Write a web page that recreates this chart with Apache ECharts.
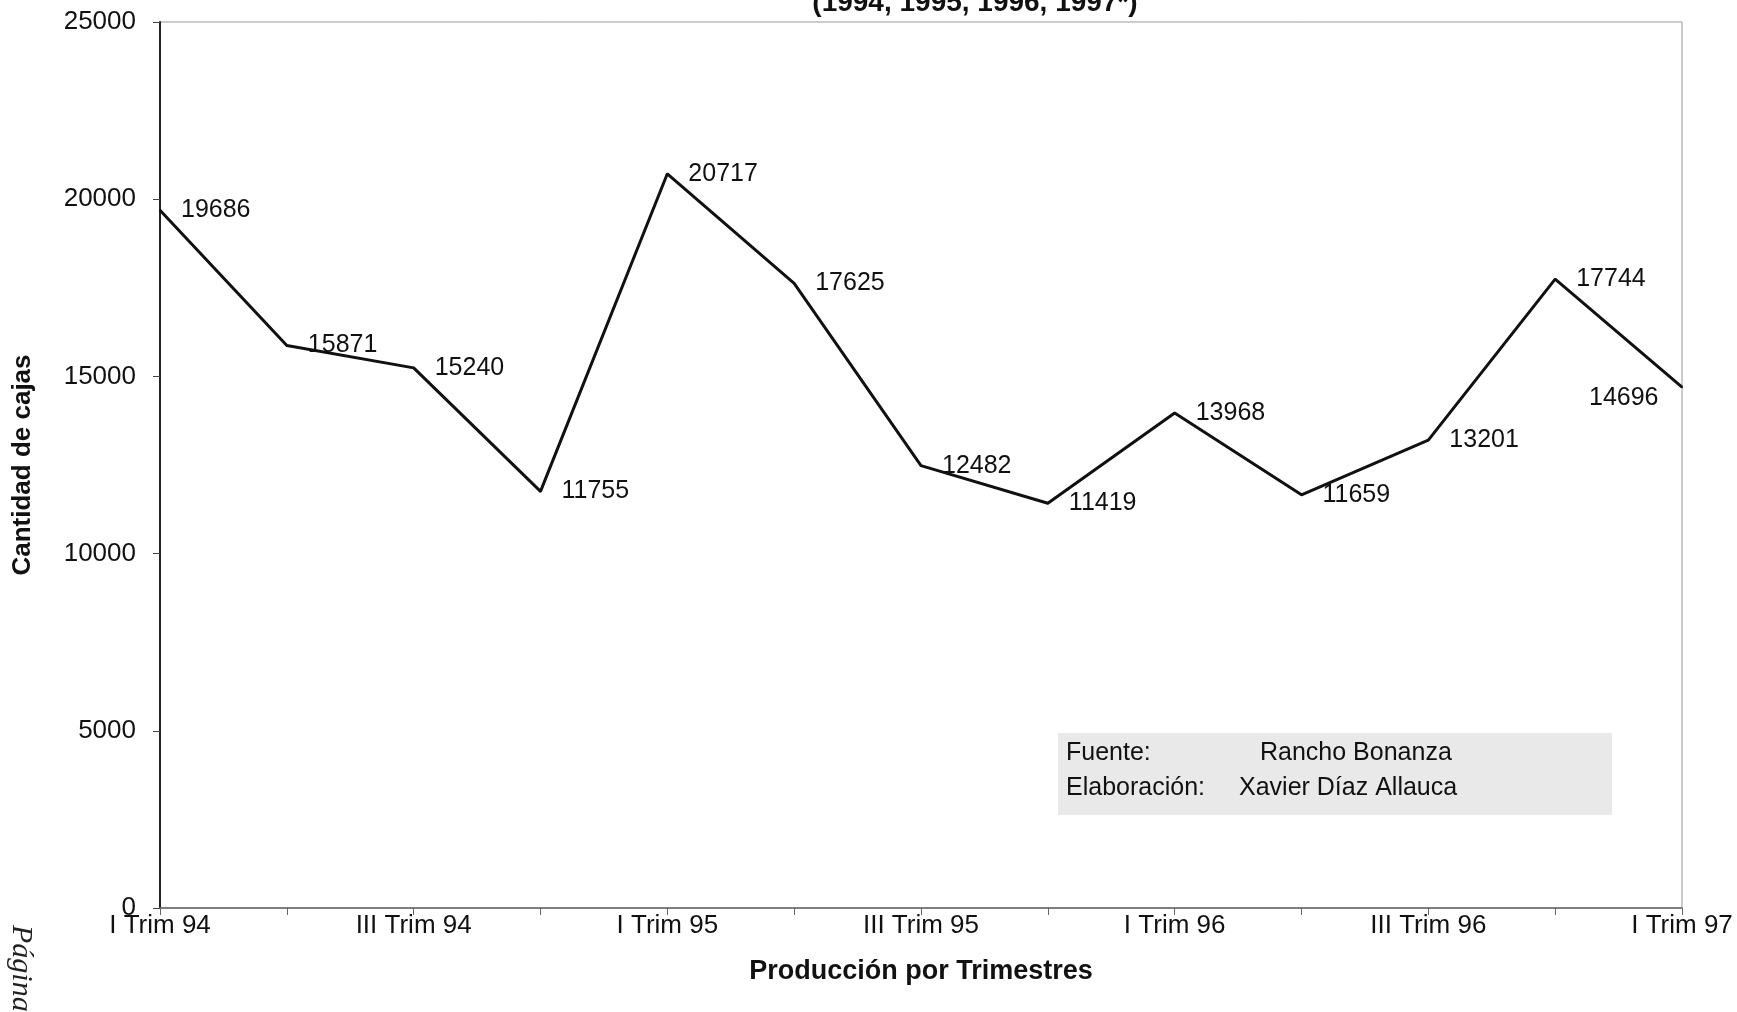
<!DOCTYPE html>
<html>
<head>
<meta charset="utf-8">
<title>Producción por Trimestres</title>
<script src="https://cdn.jsdelivr.net/npm/echarts@6/dist/echarts.min.js"></script>
<style>
  html, body { margin: 0; padding: 0; background: #fff; }
  #main { width: 1737px; height: 1012px; }
</style>
</head>
<body>
<div id="main"></div>
<script>
const trimestres = [
  "I Trim 94", "II Trim 94", "III Trim 94", "IV Trim 94",
  "I Trim 95", "II Trim 95", "III Trim 95", "IV Trim 95",
  "I Trim 96", "II Trim 96", "III Trim 96", "IV Trim 96",
  "I Trim 97"
];
const cajas = [19686, 15871, 15240, 11755, 20717, 17625, 12482, 11419, 13968, 11659, 13201, 17744, 14696];
const yTicks = [0, 5000, 10000, 15000, 20000, 25000];
const fuente = ["Fuente:", "Rancho Bonanza"];
const elaboracion = ["Elaboración:", "Xavier Díaz Allauca"];

const FONT = "Liberation Sans, Arial, sans-serif";

const chart = echarts.init(document.getElementById("main"));

// last point label sits to the left, a bit below the line end
const seriesData = cajas.map((v, i) => {
  if (i === cajas.length - 1) {
    return { value: v, label: { position: [-92, -1], align: "left", verticalAlign: "top" } };
  }
  return v;
});

const option = {
  backgroundColor: "#fff",
  animation: false,
  title: {
    text: "(1994, 1995, 1996, 1997*)",
    left: 970,
    textAlign: "center",
    top: -16,
    textStyle: { fontFamily: FONT, fontSize: 28, fontWeight: "bold", color: "#111" }
  },
  grid: {
    left: 160, right: 55, top: 22, bottom: 104,
    show: true,
    borderColor: "#999",
    borderWidth: 1
  },
  xAxis: {
    type: "category",
    data: trimestres,
    boundaryGap: false,
    name: "Producción por Trimestres",
    nameLocation: "middle",
    nameGap: 50,
    nameTextStyle: { fontFamily: FONT, fontSize: 27, fontWeight: "bold", color: "#111" },
    axisLine: { lineStyle: { color: "#666", width: 1.5 } },
    axisTick: { interval: 0, length: 7, lineStyle: { color: "#666" } },
    axisLabel: {
      interval: 1,
      margin: 5,
      fontFamily: FONT, fontSize: 26, color: "#111"
    },
    splitLine: { show: false }
  },
  yAxis: {
    type: "value",
    min: yTicks[0],
    max: yTicks[yTicks.length - 1],
    interval: yTicks[1] - yTicks[0],
    name: "Cantidad de cajas",
    nameLocation: "middle",
    nameGap: 124,
    nameRotate: 90,
    nameTextStyle: { fontFamily: FONT, fontSize: 26, fontWeight: "bold", color: "#111" },
    axisLine: { show: true, lineStyle: { color: "#222", width: 2 } },
    axisTick: { show: true, length: 7, lineStyle: { color: "#444" } },
    axisLabel: {
      margin: 24, fontFamily: FONT, fontSize: 26, color: "#111",
      formatter: v => String(v)
    },
    splitLine: { show: false }
  },
  series: [{
    type: "line",
    data: seriesData,
    showSymbol: true,
    symbol: "circle",
    symbolSize: 2,
    itemStyle: { color: "#111", borderWidth: 0 },
    lineStyle: { color: "#111", width: 3 },
    label: {
      show: true,
      position: "right",
      distance: 20,
      fontFamily: FONT,
      fontSize: 25,
      color: "#111",
      formatter: p => String(p.value)
    },
    labelLayout: { hideOverlap: false }
  }],
  graphic: [
    {
      type: "rect",
      shape: { x: 1058, y: 733, width: 554, height: 82 },
      style: { fill: "#e9e9e9" },
      z: 1
    },
    {
      type: "text", x: 1066, y: 741,
      style: { text: fuente[0], fontFamily: FONT, fontSize: 25, fill: "#111" }, z: 2
    },
    {
      type: "text", x: 1260, y: 741,
      style: { text: fuente[1], fontFamily: FONT, fontSize: 25, fill: "#111" }, z: 2
    },
    {
      type: "text", x: 1066, y: 776,
      style: { text: elaboracion[0], fontFamily: FONT, fontSize: 25, fill: "#111" }, z: 2
    },
    {
      type: "text", x: 1239, y: 776,
      style: { text: elaboracion[1], fontFamily: FONT, fontSize: 25, fill: "#111" }, z: 2
    },
    {
      type: "text",
      x: 36, y: 925,
      rotation: -Math.PI / 2,
      style: {
        text: "Página",
        fontFamily: "Liberation Serif, Times New Roman, serif",
        fontStyle: "italic",
        fontSize: 30,
        fill: "#222"
      }
    }
  ]
};

chart.setOption(option);
window.addEventListener("resize", () => chart.resize());
</script>
</body>
</html>
